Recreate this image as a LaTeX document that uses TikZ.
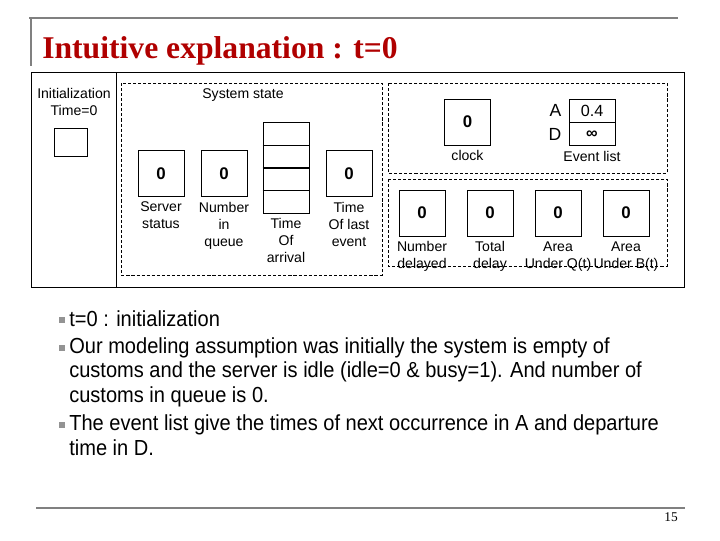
\documentclass[tikz,border=0pt]{standalone}
\usepackage{fontspec}
\setmainfont{Liberation Sans}
\newfontfamily\titlefont{Liberation Serif}
\newfontfamily\bodyfont{Liberation Sans}[FakeStretch=0.92]
\usetikzlibrary{positioning}
\definecolor{rulegray}{HTML}{808080}
\definecolor{titlered}{HTML}{B00000}
\definecolor{ink}{HTML}{000000}
\tikzset{
  cell/.style    = {rectangle, draw=ink, line width=0.6pt, minimum width=1.15cm,
                    minimum height=1.15cm, inner sep=0pt,
                    font=\fontsize{12}{14}\selectfont\bfseries},
  evcell/.style  = {rectangle, draw=ink, line width=0.6pt, minimum width=1.15cm,
                    minimum height=0.575cm, inner sep=0pt,
                    font=\fontsize{11.5}{13}\selectfont},
  lbl/.style     = {align=center, inner sep=0pt, font=\fontsize{10}{12}\selectfont},
  dashbox/.style = {draw=ink, line width=0.6pt, dash pattern=on 2.2pt off 1.4pt},
  rulebar/.style = {draw=rulegray, line width=2.1pt},
  bullet/.style  = {rectangle, fill=rulegray!85, inner sep=0pt, minimum size=0.14cm},
  body/.style    = {align=left, inner sep=0pt, font=\bodyfont\fontsize{15.5}{17.1}\selectfont},
}

\begin{document}
\begin{tikzpicture}[x=0.025cm, y=-0.025cm]
  \useasboundingbox (0,0) rectangle (720,540);

  % title
  \draw[rulebar] (29,18) -- (678,18);
  \draw[rulebar] (31,18) -- (31,66);
  \node[anchor=base west, inner sep=0pt, text=titlered,
        font=\titlefont\bfseries\fontsize{22.5}{26}\selectfont] (title) at (42,58)
       {Intuitive explanation : t=0};

  % frame
  \draw[line width=0.6pt] (31,72) rectangle (684,287);
  \draw[line width=0.6pt] (116,72) -- (116,287);
  \draw[dashbox] (121,83) rectangle (382,275);
  \draw[dashbox] (388,83) rectangle (667,173);
  \draw[dashbox] (388,179) rectangle (667,266);

  % initialization
  \node[lbl, font=\fontsize{10}{11.5}\selectfont] (inittxt) at (74,102) {Initialization\\Time=0};
  \node[cell, minimum width=0.825cm, minimum height=0.7cm] (init) at (70.5,142) {};

  % system state
  \node[lbl] (systxt) at (243,95) {System state};
  \node[cell] (server) at (161,173.5) {0};
  \node[lbl, below=3.5pt of server] {Server\\status};
  \node[cell] (numq) at (224,173.5) {0};
  \node[lbl, below=3.5pt of numq] {Number\\in\\queue};
  \node[cell, minimum height=2.275cm] (queue) at (286,167.5) {};
  \foreach \yy/\lw in {145/0.6pt, 168/1.4pt, 190/0.6pt}
    \draw[line width=\lw] (queue.west |- 0,\yy) -- (queue.east |- 0,\yy);
  \node[lbl, below=3.5pt of queue] {Time\\Of\\arrival};
  \node[cell] (lastev) at (349,173.5) {0};
  \node[lbl, below=3.5pt of lastev] {Time\\Of last\\event};

  % clock and event list
  \node[cell] (clock) at (467.5,122) {0};
  \node[lbl, below=3.5pt of clock] {clock};
  \node[evcell] (evA) at (592,110.5) {0.4};
  \node[evcell, below=0pt of evA] (evD) {\bfseries ∞};
  \node[left=5pt of evA, inner sep=0pt, font=\fontsize{12.5}{14}\selectfont] (atxt) {A};
  \node[left=5pt of evD, inner sep=0pt, font=\fontsize{12.5}{14}\selectfont] (dtxt) {D};
  \node[lbl, below=3.5pt of evD] {Event list};

  % statistical counters
  \node[cell] (ndel) at (422,213) {0};
  \node[lbl, below=3.5pt of ndel] {Number\\delayed};
  \node[cell] (tdel) at (490,213) {0};
  \node[lbl, below=3.5pt of tdel] {Total\\delay};
  \node[cell] (areaq) at (558,213) {0};
  \node[lbl, below=3.5pt of areaq] {Area\\Under Q(t)};
  \node[cell] (areab) at (626,213) {0};
  \node[lbl, below=3.5pt of areab] {Area\\Under B(t)};

  % bullets
  \node[bullet] (b1) at (62,320) {};
  \node[body, anchor=base west] (t1) at (69,326) {t=0 : initialization};
  \node[bullet] (b2) at (62,348) {};
  \node[body, anchor=base west] (t2) at (69,402)
       {Our modeling assumption was initially the system is empty of\\
        customs and the server is idle (idle=0 \& busy=1). And number of\\
        customs in queue is 0.};
  \node[bullet] (b3) at (62,425) {};
  \node[body, anchor=base west] (t3) at (69,455)
       {The event list give the times of next occurrence in A and departure\\
        time in D.};

  % footer
  \draw[rulebar] (36,508) -- (685,508);
  \node[inner sep=0pt, font=\titlefont\fontsize{9.5}{11}\selectfont] (pnum) at (671,517) {15};
\end{tikzpicture}
\end{document}
